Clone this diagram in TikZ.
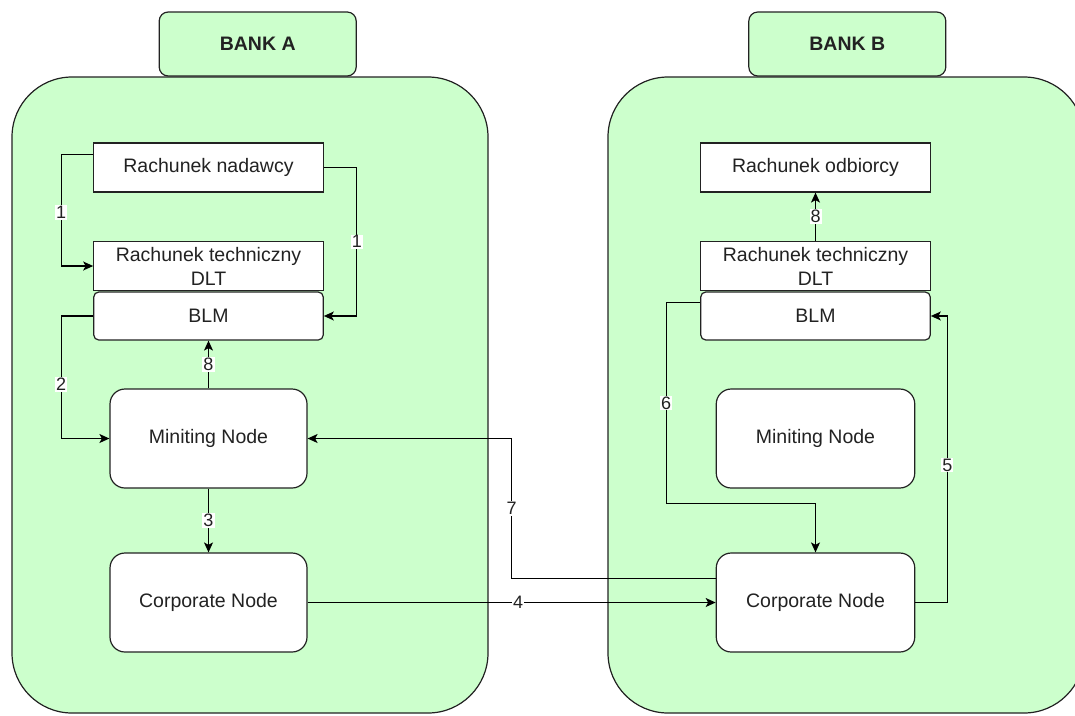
\documentclass[tikz,border=0pt]{standalone}
\usepackage{fontspec}
\setmainfont{Liberation Sans}
\usetikzlibrary{arrows.meta}
\definecolor{bankfill}{HTML}{CCFFCC}
\definecolor{ink}{HTML}{222222}
\begin{document}
\begin{tikzpicture}[x=1pt,y=-1pt,
  every node/.style={font=\fontsize{19.5}{24}\selectfont, text=ink, align=center, inner sep=0pt},
  bank/.style={draw=ink, line width=1.2pt, fill=bankfill, rounded corners=60pt},
  bankhead/.style={draw=ink, line width=1.2pt, fill=bankfill, rounded corners=9pt,
    minimum width=197, minimum height=64, font=\fontsize{19.5}{24}\selectfont\bfseries},
  acct/.style={draw=ink, line width=1.2pt, fill=white, minimum width=229.5, minimum height=49},
  blmbox/.style={draw=ink, line width=1.2pt, fill=white, rounded corners=5pt,
    minimum width=229.5, minimum height=48},
  procnode/.style={draw=ink, line width=1.2pt, fill=white, rounded corners=15pt,
    minimum width=197, minimum height=99},
  link/.style={draw=black, line width=1.2pt},
  arr/.style={link, -{Stealth[length=10pt, width=9pt, inset=2.5pt]}},
  lbl/.style={fill=white, inner sep=1pt, font=\fontsize{18}{20}\selectfont}
]
\useasboundingbox (0,0) rectangle (1075,715);
\clip (0,0) rectangle (1075,715);

% bank containers
\draw[bank] (12,77) rectangle (488,713);
\draw[bank] (608,77) rectangle (1084,713);
\node[bankhead] (headA) at (257.7,44) {BANK A};
\node[bankhead] (headB) at (847.3,44) {BANK B};

% bank A
\node[acct] (nad) at (208.5,167.5) {Rachunek nadawcy};
\node[acct] (dltA) at (208.5,266) {Rachunek techniczny\\DLT};
\node[blmbox] (blmA) at (208.5,316) {BLM};
\node[procnode] (minA) at (208.5,438.5) {Miniting Node};
\node[procnode] (corpA) at (208.5,602.5) {Corporate Node};

% bank B
\node[acct] (odb) at (815.5,167.5) {Rachunek odbiorcy};
\node[acct] (dltB) at (815.5,266) {Rachunek techniczny\\DLT};
\node[blmbox] (blmB) at (815.5,316) {BLM};
\node[procnode, minimum width=198.5] (minB) at (815.5,438.5) {Miniting Node};
\node[procnode, minimum width=198.5] (corpB) at (815.5,602.5) {Corporate Node};

% flows inside bank A
\draw[arr] ([yshift=13pt]nad.west) -- ++(-32,0) |- (dltA.west) node[lbl, pos=0.26] {1};
\draw[arr] (nad.east) -- ++(33,0) |- (blmA.east) node[lbl, pos=0.25] {1};
\draw[arr] (blmA.west) -- ++(-32,0) |- (minA.west) node[lbl, pos=0.28] {2};
\draw[arr] (minA.north) -- (blmA.south) node[lbl, midway] {8};
\draw[arr] (minA.south) -- (corpA.north) node[lbl, midway] {3};

% flows between banks
\draw[arr] (corpA.east) -- (corpB.west) node[lbl, pos=0.516] {4};
\draw[arr] ([yshift=24pt]corpB.west) -- ++(-204,0) |- (minA.east) node[lbl, pos=0.25] {7};

% flows inside bank B
\draw[arr] (corpB.east) -- ++(32,0) |- (blmB.east) node[lbl, pos=0.24] {5};
\draw[arr] ([yshift=13.5pt]blmB.west) -- ++(-34,0) -- ++(0,201) node[lbl, midway] {6} -| (corpB.north);
\draw[arr] (dltB.north) -- (odb.south) node[lbl, midway] {8};
\end{tikzpicture}
\end{document}
